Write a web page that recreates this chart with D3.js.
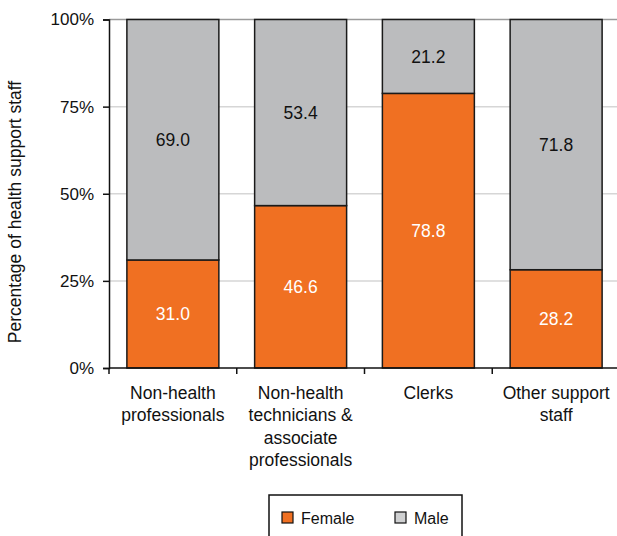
<!DOCTYPE html>
<html>
<head>
<meta charset="utf-8">
<script src="https://cdn.jsdelivr.net/npm/d3@7"></script>
<style>
    body { margin: 0; background: #fff; }
    text { font-family: "Liberation Sans", Arial, sans-serif; }
</style>
</head>
<body>
<script>
// chart data
const categories = [
    ['Non-health', 'professionals'],
    ['Non-health', 'technicians &', 'associate', 'professionals'],
    ['Clerks'],
    ['Other support', 'staff']
];
const female = [31.0, 46.6, 78.8, 28.2];
const male = [69.0, 53.4, 21.2, 71.8];
const yTicks = [0, 25, 50, 75, 100];
const seriesNames = ['Female', 'Male'];

const width = 617;
const height = 536;
const marginLeft = 109;
const marginTop = 19.5;
const plotBottom = 368;
const plotRight = 620;

const orange = '#f07022';
const grey = '#bbbcbe';

const svg = d3.select('body')
    .append('svg')
    .attr('width', width)
    .attr('height', height);

const x = d3.scaleBand()
    .domain(d3.range(categories.length))
    .range([marginLeft, plotRight])
    .paddingInner(0.28)
    .paddingOuter(0.14);

const y = d3.scaleLinear()
    .domain([0, 100])
    .range([plotBottom, marginTop]);

// gridlines
svg.selectAll('line.grid')
    .data(yTicks.filter(d => d > 0))
    .enter()
    .append('line')
    .attr('class', 'grid')
    .attr('x1', marginLeft)
    .attr('x2', width)
    .attr('y1', d => y(d))
    .attr('y2', d => y(d))
    .attr('stroke', d => d === 100 ? '#9a9a9a' : '#d6d6d6')
    .attr('stroke-width', 1.5);

// stacked bars
const stackData = categories.map((c, i) => ({ i, female: female[i], male: male[i] }));

svg.selectAll('rect.female')
    .data(stackData)
    .enter()
    .append('rect')
    .attr('class', 'female')
    .attr('x', d => x(d.i))
    .attr('width', x.bandwidth())
    .attr('y', d => y(d.female))
    .attr('height', d => y(0) - y(d.female))
    .attr('fill', orange)
    .attr('stroke', '#1a1a1a')
    .attr('stroke-width', 1.5);

svg.selectAll('rect.male')
    .data(stackData)
    .enter()
    .append('rect')
    .attr('class', 'male')
    .attr('x', d => x(d.i))
    .attr('width', x.bandwidth())
    .attr('y', d => y(d.female + d.male))
    .attr('height', d => y(d.female) - y(d.female + d.male))
    .attr('fill', grey)
    .attr('stroke', '#1a1a1a')
    .attr('stroke-width', 1.5);

// value labels
svg.selectAll('text.female-label')
    .data(stackData)
    .enter()
    .append('text')
    .attr('x', d => x(d.i) + x.bandwidth() / 2)
    .attr('y', d => y(d.female / 2))
    .attr('dy', '0.35em')
    .attr('text-anchor', 'middle')
    .attr('font-size', 17.5)
    .attr('fill', '#fff')
    .text(d => d.female.toFixed(1));

svg.selectAll('text.male-label')
    .data(stackData)
    .enter()
    .append('text')
    .attr('x', d => x(d.i) + x.bandwidth() / 2)
    .attr('y', d => y(d.female + d.male / 2))
    .attr('dy', '0.35em')
    .attr('text-anchor', 'middle')
    .attr('font-size', 17.5)
    .attr('fill', '#111')
    .text(d => d.male.toFixed(1));

// y axis
const yAxis = d3.axisLeft(y)
    .tickValues(yTicks)
    .tickSize(6)
    .tickPadding(9)
    .tickFormat(d => d + '%');

const yG = svg.append('g')
    .attr('transform', `translate(${marginLeft},0)`)
    .call(yAxis);
yG.select('.domain').attr('stroke', '#111').attr('stroke-width', 1.5);
yG.selectAll('.tick line').attr('stroke', '#111').attr('stroke-width', 1.5);
yG.selectAll('.tick text')
    .attr('font-size', 17)
    .attr('fill', '#111')
    .style('font-family', '"Liberation Sans", Arial, sans-serif');

// x axis line with ticks at band boundaries
const step = x.step();
const boundaries = d3.range(categories.length + 1).map(i => x(0) - x.paddingOuter() * step + i * step);
svg.append('line')
    .attr('x1', marginLeft)
    .attr('x2', plotRight)
    .attr('y1', plotBottom)
    .attr('y2', plotBottom)
    .attr('stroke', '#111')
    .attr('stroke-width', 1.5);

svg.selectAll('line.xtick')
    .data(boundaries)
    .enter()
    .append('line')
    .attr('class', 'xtick')
    .attr('x1', d => d)
    .attr('x2', d => d)
    .attr('y1', plotBottom)
    .attr('y2', plotBottom + 6)
    .attr('stroke', '#111')
    .attr('stroke-width', 1.5);

// category labels
const catG = svg.selectAll('text.cat')
    .data(categories)
    .enter()
    .append('text')
    .attr('class', 'cat')
    .attr('text-anchor', 'middle')
    .attr('font-size', 17.5)
    .attr('fill', '#111')
    .attr('transform', (d, i) => `translate(${x(i) + x.bandwidth() / 2},${399})`);

catG.selectAll('tspan')
    .data(d => d)
    .enter()
    .append('tspan')
    .attr('x', 0)
    .attr('y', (d, i) => i * 22.3)
    .text(d => d);

// y axis title
svg.append('text')
    .attr('transform', 'translate(21,212) rotate(-90)')
    .attr('text-anchor', 'middle')
    .attr('font-size', 17.5)
    .attr('fill', '#111')
    .text('Percentage of health support staff');

// legend
const legend = svg.append('g');
legend.append('rect')
    .attr('x', 269)
    .attr('y', 495)
    .attr('width', 193)
    .attr('height', 50)
    .attr('fill', '#fff')
    .attr('stroke', '#111')
    .attr('stroke-width', 1.5);

const legendX = [282, 395];
const legendColors = [orange, '#cfd0d1'];
seriesNames.forEach((name, i) => {
    legend.append('rect')
        .attr('x', legendX[i])
        .attr('y', 512)
        .attr('width', 11)
        .attr('height', 11)
        .attr('fill', legendColors[i])
        .attr('stroke', '#111')
        .attr('stroke-width', 1.2);
    legend.append('text')
        .attr('x', legendX[i] + 19)
        .attr('y', 518)
        .attr('dy', '0.4em')
        .attr('font-size', 16)
        .attr('fill', '#111')
        .text(name);
});
</script>
</body>
</html>
